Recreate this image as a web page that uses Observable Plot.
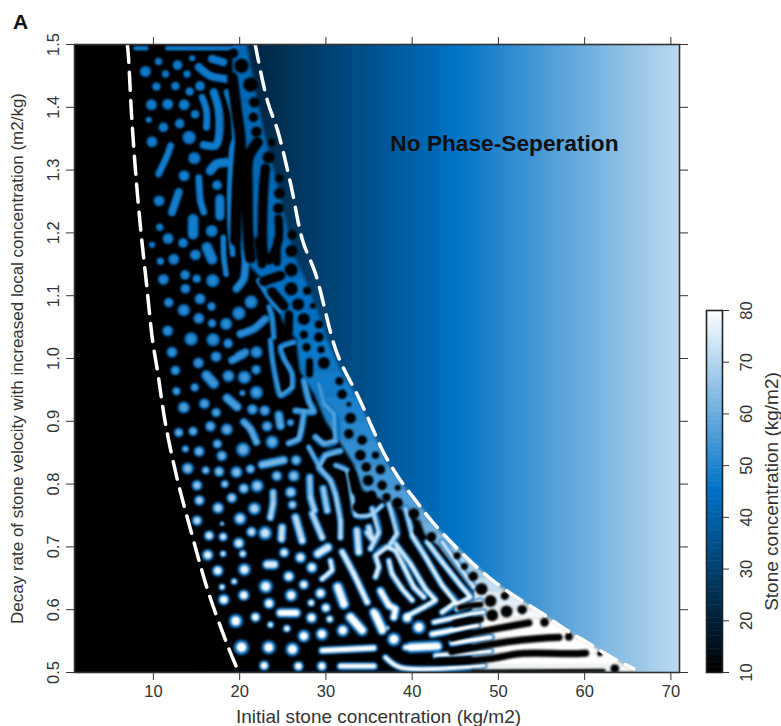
<!DOCTYPE html>
<html><head><meta charset="utf-8">
<script src="https://cdn.jsdelivr.net/npm/d3@7"></script>
<script src="https://cdn.jsdelivr.net/npm/@observablehq/plot@0.6"></script>
<style>
html,body{margin:0;padding:0;background:#fff}
#wrap{position:relative;width:781px;height:726px;overflow:hidden}
#wrap svg{position:absolute;left:0;top:0;background:transparent}
</style></head><body><div id="wrap"></div>
<script>
const xTicks=[10,20,30,40,50,60,70];
const yTicks=[0.5,0.6,0.7,0.8,0.9,1.0,1.1,1.2,1.3,1.4,1.5];
const barTicks=[10,20,30,40,50,60,70,80];
const lowerBoundary=[[6.98,1.5],[7.1,1.482],[7.45,1.392],[7.9,1.303],[8.5,1.209],[9.2,1.119],[9.9,1.029],[10.5,.978],[11.4,.896],[12.8,.806],[14.5,.718],[16.3,.631],[18.6,.543],[19.9,.5]];
const upperBoundary=[[21.8,1.5],[23.2,1.411],[24.4,1.363],[25.9,1.279],[27.3,1.188],[28.8,1.135],[31.3,1.008],[33.8,.938],[35.4,.889],[36.7,.85],[38.4,.811],[40.4,.774],[42.4,.739],[44.7,.705],[47,.674],[49.4,.646],[52.3,.618],[55.1,.594],[57.6,.57],[60.5,.546],[63.4,.522],[65.7,.506]];
// y, inner x, outer x, level of the connected phase near the boundary
const bandRows=[[1.5,19.2,20.9,42],[1.41,19.3,22.1,42],[1.36,19.4,22.9,42],[1.28,19.6,24.4,42],[1.19,20,25.9,43],[1.16,20.4,26.5,43],[1.13,22.3,27.5,44],[1.08,24.5,29,45],[1.06,25,29.5,45],[1.03,26.6,30.2,46],[.98,27,31.8,47],[.94,28.8,33.7,48],[.9,30,35,50],[.87,31.5,36,51],[.83,33.3,37.3,53],[.79,34.3,39.5,55],[.76,38.8,41.4,57],[.74,41,42.3,59],[.72,41.5,43.7,62],[.7,43.2,45.2,65],[.65,46,49,70],[.63,47.2,51,74],[.6,47,54.4,78],[.585,47,56,80],[.575,47,57,80],[.555,47,59.4,80],[.53,47,62.5,80],[.51,47,65,80],[.5,47,66.4,78]];
// x, y, radius of isolated peaks
const peaks=[[9.07,1.457,4.5],[10.6,1.473,3],[12.8,1.467,4],[14.5,1.478,2.5],[11.4,1.453,3],[13.9,1.453,3],[10.35,1.433,3.5],[12.55,1.434,3.5],[15.4,1.434,4],[14.2,1.425,3.5],[9.77,1.404,4.5],[11.66,1.405,4.5],[13.56,1.404,4.5],[14.83,1.389,3.5],[9.46,1.38,2.5],[11.16,1.368,4],[13.05,1.374,4],[14.14,1.352,5.5],[9.84,1.345,4.5],[14.75,1.319,5],[13.56,1.291,4.5],[17.38,1.276,4],[10.66,1.251,4.5],[16.77,1.203,5],[10.73,1.209,3],[11.7,1.191,4.5],[13.44,1.184,4],[9.84,1.181,2.5],[12.36,1.158,4.5],[10.81,1.155,3],[14.87,1.165,4.5],[11.16,1.126,4.5],[13.67,1.133,4],[15.03,1.127,3.5],[16.88,1.124,5.5],[13.71,1.111,4],[11.78,1.089,4],[15.41,1.095,4.5],[13.52,1.077,5],[16.73,1.083,3.5],[15.26,1.064,4.5],[16.8,1.056,3.5],[18.43,1.055,5],[11.66,1.044,4.5],[14.37,1.031,5.5],[16.92,1.03,5.5],[18.66,1.024,4],[12.16,1.01,4.5],[17.27,1.003,4.5],[21.33,1.09,5.5],[19.9,1.072,5.5],
[15.22,.993,4.5],[21.95,1.01,5],[12.55,.981,4],[18.7,.972,5],[20.55,.97,5.5],[21.91,.982,4],[12.67,.948,3.5],[14.79,.954,3.5],[21.95,.946,5.5],[20.32,.945,2.5],[13.52,.922,5],[15.91,.928,4.5],[17.27,.914,4],[21.48,.919,4.5],[22.91,.917,4.5],[25.89,.898,3],[12.94,.882,4],[14.6,.884,4],[16.61,.892,4.5],[18.51,.887,5],[23.18,.892,4.5],[13.71,.856,3],[15.3,.852,4.5],[17.42,.864,4],[17.93,.845,4.5],[20.4,.855,6],[23.76,.867,5.5],[13.98,.825,5],[16.07,.822,3.5],[17.62,.82,4.5],[19.63,.819,5],[21.25,.824,4],[26.55,.838,4.5],[24.31,.813,4.5],[26.28,.813,5],[15.06,.798,4.5],[18.27,.8,3.5],[20.48,.793,4.5],[22.03,.797,5.5],[25.93,.787,5],[15.33,.774,4.5],[19.09,.778,4.5],[26.12,.767,4],[17.5,.762,5],[21.71,.761,5.5],[15.06,.742,4.5],[20.05,.745,5.5],[17.96,.737,2],[16.46,.718,4.5],[18.08,.716,4],[21.37,.724,4.5],[22.95,.722,6],[19.9,.706,5],[16.3,.687,5],[18.08,.689,3],[20.36,.689,3.5],[25.16,.691,4.5],[27.05,.683,5],[17.46,.662,5],[20.55,.664,5.5],[28.37,.667,5],[25.7,.653,5],[19.36,.645,3],[17.96,.636,3],[27.44,.64,4.5],[23.03,.637,6],[20.48,.623,5],[18.16,.616,5],[25.97,.623,5.5],[29.37,.626,5],[23.42,.61,5],[28.29,.611,3.5],[29.99,.603,4.5],[19.55,.582,6],[21.83,.588,4.5],[28.33,.587,5],[30.45,.585,3.5],[23.57,.576,3],[25.47,.57,3.5],[27.44,.558,5.5],[29.53,.561,5.5],[31.96,.567,5.5],[20.21,.54,6.5],[23.38,.54,6],[26.12,.537,6],[22.84,.511,4.5],[26.82,.51,4.5],[29.53,.51,4.5],[37.88,.553,6],[39.42,.587,5],[40.78,.572,6],[37.15,.571,2]];
// width, then x,y pairs of elongated peaks and stripes
const stripes=[[3,7.9,1.494,9.2,1.494],[3,11.6,1.494,19.7,1.494],[5,10.6,1.294,11.6,1.323,12,1.339],[6,12.16,1.233,12.94,1.265],[5,15.26,1.288,15.45,1.251,15.84,1.233],[7,17.7,1.254,17.7,1.227],[8,14.6,1.222,14.6,1.198],[8,16.2,1.177,16.8,1.158],[4,18.1,1.193,18.16,1.161,18.43,1.134],[6,19.63,1.111,20.48,1.127,20.67,1.15,20.7,1.17],[4,19.51,1.352,19.12,1.336,18.93,1.299,18.85,1.257,18.93,1.204,19.2,1.166],[5,18.55,1.424,19.32,1.389,19.51,1.352],[5,15.64,1.416,16.15,1.395,16.15,1.368],[6,17,1.424,17.58,1.395,17.58,1.352,17.19,1.339,15.84,1.34],[6,15.26,1.464,16.61,1.45,18.55,1.445],[6,16.8,1.477,18.1,1.472],[7,16.61,1.299,17.38,1.31,18.55,1.312],
[6,19.12,.997,20.48,1.007],[8,16.15,.973,17,.96],[7,18.54,.937,19.7,.923],[7,24.54,.91,24.73,.893],[6,20.48,.899,21.25,.888,21.95,.867],[7,22.6,.831,25.1,.838],[6,23.88,.787,23.88,.769,23.57,.747],[6,28.13,.811,28.21,.779,28.68,.758],[6,29.68,.793,30.15,.758],[7,26.47,.747,27.25,.71],[6,28.4,.753,29.56,.715],[7,24.92,.731,24.85,.713],[8,29.06,.689,30.22,.699],[5,30.53,.678,30.73,.663,29.56,.649],[6,31.89,.692,33.24,.657,34.79,.612],[9,31.38,.636,32.08,.609],[8,24.73,.595,26.55,.595],[9,32.85,.588,34.2,.567],[9,35.75,.592,36.5,.57],[6,29.57,.535,35.56,.539],[6,31.69,.51,35.56,.51],[7,33.6,.726,33.8,.692],[8,23.2,.672,24,.672],
[5,26.47,.917,28.6,.915,28,.933,27.44,.965],[5,25.7,.865,26.86,.872,27.24,.893,27.44,.912],[5,29.18,.96,29.76,.928,30.92,.912,31.11,.869,29.76,.864,28.79,.875],[5,31.69,.853,29.95,.846,29.18,.827,30.53,.806,31.11,.784,31.69,.742,31.69,.715],[4,28,.859,29.37,.824],[4,31.11,.83,32.46,.822,33.04,.779,33.43,.75,34.98,.75,36.52,.766],[4,23.57,1.029,23.76,1.002,24.15,.97,24.73,.941,26.08,.954,26.08,.976,25.12,1,24.73,1.018,26.28,1.026],[6,20.09,1.039,21.64,1.047,22.99,1.063],[6,19.9,1.005,20.67,1.01],[4,22.2,1.124,23.76,1.09,24.73,1.076],[4,23.4,1.082,23.76,1.066,23.96,1.034],
[6,34.8,.723,35.36,.713],[6,34.98,.731,35.25,.716],[5,35.36,.761,36.14,.723,35.17,.697],[5,37.3,.769,38.25,.721,37.49,.705],[5,39.23,.761,40,.721],
[5,35.75,.652,36.14,.668,35.75,.686,37.1,.7,38.07,.694,39.04,.668,40.2,.636,41.36,.62],[5,37.3,.678,37.68,.657,38.84,.633,40,.615],[5,38.07,.705,39.81,.673,41.55,.633,42.71,.615,41.36,.604,39.4,.59],[5,40,.718,41.55,.684,43.48,.639,45.03,.612,43.48,.596],[5,41.74,.708,43.48,.676,45.61,.639,46.77,.62,45.22,.609],[5,43.48,.708,47.16,.636],
[7,36.33,.63,37.3,.607,38.07,.601,37.88,.588],[9,39.81,.54,42.9,.542],[5,36.91,.524,38.65,.508,48.32,.511],[6,39.23,.54,43.1,.541],[5,42.71,.527,49.09,.534],[6,44.64,.547,49.09,.556],[6,42.32,.561,47.54,.575],[5,42.52,.58,46.77,.593,48.3,.596],[5,45.2,.601,47.93,.614],[8,35.56,.596,36.52,.567]];
// x, y, radius of dark holes inside the connected phase
const holes=[[19.28,1.486,4],[20.21,1.466,6],[21.25,1.436,6],[21.7,1.408,4.5],[21.6,1.384,4],[21.95,1.361,4.5],[23.69,1.344,3],[23.34,1.32,5],[24.6,1.287,3.5],[24.6,1.263,4.5],[24.5,1.239,4.5],[26.08,1.197,4],[26,1.171,5],[25.97,1.141,5.5],[27.82,1.108,3.5],[25.97,1.111,5.5],[26.78,1.086,5],[27.44,1.063,5],[29.18,1.054,3.5],[27.44,1.038,3.5],[29.18,1.034,4],[27.75,1.018,3.5],[29.45,1.014,3],[29.76,.993,5],[31.57,.964,3.5],[31.88,.943,4],[28.5,1.084,2.5],[32.66,.927,2],[32.85,.905,4.5],[32.66,.88,4],[34.2,.87,4],[34,.846,4.5],[35.75,.846,3],[34.67,.827,4],[36.33,.823,4],[34.9,.806,4.5],[36.52,.798,4],[38.34,.794,2.5],[37.03,.779,3.5],[35.3,.782,4],[38.3,.77,4.5],[40.2,.753,4.5],[42.25,.716,4],[40.58,.725,3],[45.22,.686,3],[46.07,.669,3],[47.08,.653,4],[48.05,.633,5],[49.09,.614,5],[49.28,.591,5],[50.95,.597,5],[52.76,.6,4],[50.75,.622,3.5],[55.35,.58,3.7],[58.18,.557,3.3],[61.77,.53,2.3],[63.5,.506,3.7]];
// width, then x,y pairs of dark channels
const channels=[[9,19.16,1.447,19.74,1.384,20.09,1.347,19.74,1.267,19.5,1.188],[9,22.06,1.344,21.02,1.32,20.9,1.267,21.02,1.188,21.25,1.16],[8,22.99,1.303,22.76,1.267,22.64,1.188,22.76,1.16],[7,24.5,1.223,24.5,1.188,23.46,1.156],[8,22.8,1.123,24.73,1.132],[8,23.76,1.106,25.12,1.084],[7,22.6,1.15,22.2,1.188],[6,24.34,1.153,24.34,1.188],[7,25.7,1.07,25.7,1.045],[6,28.1,.995,28.1,.975],[7,33.04,.816,33.43,.79],[8,35.17,.779,33.62,.763],
[6,43,.518,46.77,.519,49.09,.522,52.57,.53,58.37,.53,60.11,.531],[6,44.6,.533,46.77,.539,50.64,.548,54.5,.554,57.02,.556],[6,44.64,.555,46.77,.562,49.86,.57,53.54,.579],[6,45,.578,46.77,.583,47.93,.585],[5,45.5,.603,46.77,.607,47.93,.608],[3,47,.502,62.24,.503]];
// peak level by local density row
const peakY=[1.5,1.2,1.0,.85,.7,.5], peakV=[47,48,52,60,75,84];
const levelAt=d3.scaleLinear(peakY,peakV);

const font='"Liberation Sans",Arial,sans-serif';
const colorScale={type:"linear",domain:[10,45,80],range:["#000000","#0072c6","#ffffff"]};
const toPath=(a,i)=>{const out=[];for(let k=1;k<a.length;k+=2)out.push({id:i,w:a[0],x:a[k],y:a[k+1]});return out;};
const stripePts=stripes.flatMap(toPath).map(d=>({...d,v:levelAt(d.y)}));
const channelPts=channels.flatMap(toPath);
const bandSegs=bandRows.slice(1).flatMap((r,i)=>{const p=bandRows[i],v=(r[3]+p[3])/2;return [{i,y:p[0],a:p[1],b:p[2],v},{i,y:r[0],a:r[1],b:r[2],v}];});
const left=0.85,right=71;
const rimBlue="#0a6ebc";

const main=Plot.plot({
  width:781,height:726,marginLeft:74,marginRight:102,marginTop:44,marginBottom:54,
  style:{fontFamily:font,background:"transparent",color:"#333"},
  x:{domain:[left,right]},y:{domain:[.5,1.5]},
  r:{type:"identity"},color:colorScale,
  marks:[
    Plot.raster({x1:left,x2:right,y1:.5,y2:1.5,pixelSize:2,fill:(x)=>x}),
    Plot.areaX(bandRows,{y:d=>d[0],x1:left,x2:d=>d[2]-0.2,fill:"#000",clip:"frame",imageFilter:"blur(1.5px)"}),
    Plot.areaX(bandSegs,{y:"y",x1:"a",x2:"b",z:"i",fill:"v",clip:"frame",imageFilter:"blur(1.5px)"}),
    Plot.line(stripePts,{x:"x",y:"y",z:"id",stroke:rimBlue,strokeWidth:d=>d.w*1.35,strokeLinecap:"round",strokeLinejoin:"round",curve:"catmull-rom",clip:"frame",imageFilter:"blur(.8px)"}),
    Plot.dot(peaks,{x:d=>d[0],y:d=>d[1],r:d=>d[2]*1.22,fill:rimBlue,clip:"frame",imageFilter:"blur(.8px)"}),
    Plot.line(stripePts,{x:"x",y:"y",z:"id",stroke:"v",strokeWidth:d=>d.w*.8,strokeLinecap:"round",strokeLinejoin:"round",curve:"catmull-rom",clip:"frame",imageFilter:"blur(1px)"}),
    Plot.dot(peaks,{x:d=>d[0],y:d=>d[1],r:d=>d[2]*.75,fill:d=>levelAt(d[1]),clip:"frame",imageFilter:"blur(1px)"}),
    Plot.line(channelPts,{x:"x",y:"y",z:"id",stroke:"#000",strokeWidth:d=>d.w*1.2,strokeLinecap:"round",curve:"catmull-rom",clip:"frame",imageFilter:"blur(.8px)"}),
    Plot.dot(holes,{x:d=>d[0],y:d=>d[1],r:d=>d[2]*1.2,fill:"#000",clip:"frame",imageFilter:"blur(.8px)"}),
    Plot.line(lowerBoundary,{x:d=>d[0],y:d=>d[1],stroke:"#fff",strokeWidth:3.5,strokeDasharray:"18,10",curve:"catmull-rom",clip:"frame"}),
    Plot.line(upperBoundary,{x:d=>d[0],y:d=>d[1],stroke:"#fff",strokeWidth:3.5,strokeDasharray:"18,10",curve:"catmull-rom",clip:"frame"}),
    Plot.frame({stroke:"#333",strokeWidth:1.6}),
    Plot.axisX({ticks:xTicks,tickSize:8,tickPadding:5,fontSize:16.5,label:null,stroke:"#333"}),
    Plot.axisX({anchor:"top",ticks:xTicks,tickSize:8,tickFormat:()=>"",label:null,stroke:"#333"}),
    Plot.axisY({ticks:yTicks,tickSize:8,tickPadding:8,tickRotate:-90,tickFormat:".1f",fontSize:16.5,label:null,stroke:"#333"}),
    Plot.axisY({anchor:"right",ticks:yTicks,tickSize:8,tickFormat:()=>"",label:null,stroke:"#333"}),
    Plot.text(["Initial stone concentration (kg/m2)"],{frameAnchor:"bottom",lineAnchor:"middle",dx:1.5,dy:44,fontSize:19,fill:"#333"}),
    Plot.text(["Decay rate of stone velocity with increased local concentration (m2/kg)"],{frameAnchor:"left",textAnchor:"middle",lineAnchor:"middle",dx:-57,rotate:-90,fontSize:17,fill:"#333"}),
    Plot.text(["No Phase-Seperation"],{x:50.7,y:1.342,fontSize:22.7,fontWeight:"bold",fill:"#111"}),
    Plot.text(["A"],{frameAnchor:"top-left",lineAnchor:"middle",dx:-54,dy:-22,fontSize:21,fontWeight:"bold",fill:"#111",textAnchor:"middle"})
  ]
});
document.getElementById("wrap").append(main);

const barValues=d3.range(10,80,0.5);
const bar=Plot.plot({
  width:781,height:726,marginLeft:706,marginRight:59,marginTop:310,marginBottom:54,
  style:{fontFamily:font,background:"transparent",color:"#333"},
  x:{axis:null,domain:[0,1]},y:{domain:[10,80]},color:colorScale,
  marks:[
    Plot.rect(barValues,{x1:0,x2:1,y1:d=>d,y2:d=>d+.6,fill:d=>d}),
    Plot.frame({stroke:"#222",strokeWidth:1.6}),
    Plot.axisY({anchor:"right",ticks:barTicks,tickSize:6,tickPadding:23,tickRotate:-90,fontSize:16.5,label:null,stroke:"#333"}),
    Plot.text(["Stone concentration (kg/m2)"],{frameAnchor:"right",textAnchor:"middle",lineAnchor:"middle",dx:49,rotate:-90,fontSize:19,fill:"#333"})
  ]
});
bar.style.pointerEvents="none";
document.getElementById("wrap").append(bar);
</script></body></html>
